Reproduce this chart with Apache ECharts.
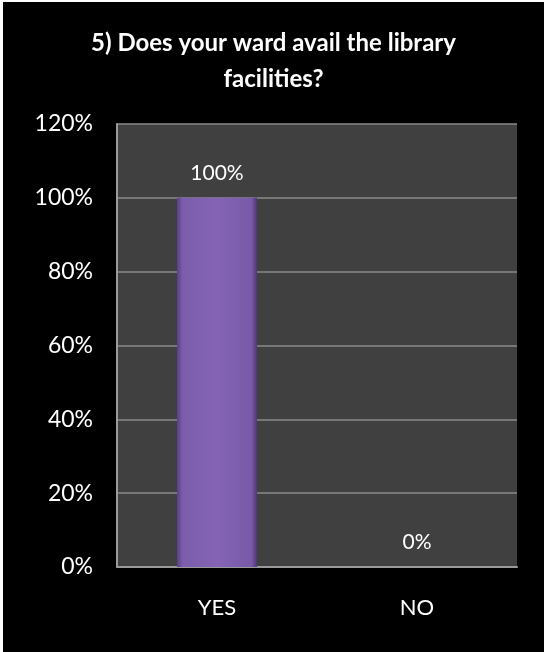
<!DOCTYPE html>
<html>
<head>
<meta charset="utf-8">
<script src="https://cdn.jsdelivr.net/npm/echarts@6/dist/echarts.min.js"></script>
<style>
html,body{margin:0;padding:0;background:#fff;}
#wrap{position:absolute;left:0;top:0;width:544px;height:652px;background:#fff;}
#chart{position:absolute;left:3px;top:2px;width:541px;height:650px;background:#000;}
</style>
</head>
<body>
<div id="wrap"><div id="chart"></div></div>
<script>
const titleText = '5) Does your ward avail the library\nfacilities?';
const categories = ['YES', 'NO'];
const values = [100, 0];
const yMin = 0, yMax = 120, yStep = 20;

const chart = echarts.init(document.getElementById('chart'));
const font = 'Lato, "Open Sans", sans-serif';
chart.setOption({
  backgroundColor: '#000',
  animation: false,
  title: {
    text: titleText,
    left: 'center',
    top: 18,
    textStyle: {color: '#fff', fontSize: 24, fontWeight: 'bold', fontFamily: font, lineHeight: 36}
  },
  grid: {left: 114, top: 122, right: 27, bottom: 85, show: true, backgroundColor: '#404040', borderWidth: 0},
  xAxis: {
    type: 'category',
    data: categories,
    axisLine: {show: true, lineStyle: {color: '#9a9a9a', width: 2}},
    axisTick: {show: false},
    axisLabel: {color: '#fff', fontSize: 22, fontFamily: font, margin: 30}
  },
  yAxis: {
    type: 'value',
    min: yMin, max: yMax, interval: yStep,
    axisLine: {show: true, lineStyle: {color: '#9a9a9a', width: 2}},
    axisTick: {show: false},
    splitLine: {lineStyle: {color: '#8a8a8a', width: 1.5}},
    axisLabel: {color: '#fff', fontSize: 23, fontFamily: font, margin: 24, formatter: v => v + '%'}
  },
  series: [{
    type: 'bar',
    data: values,
    barWidth: 80,
    itemStyle: {
      color: new echarts.graphic.LinearGradient(0, 0, 1, 0, [
        {offset: 0, color: '#5a4082'},
        {offset: 0.07, color: '#7b5dab'},
        {offset: 0.5, color: '#8563b5'},
        {offset: 0.93, color: '#785aa8'},
        {offset: 1, color: '#4e3676'}
      ]),
      borderWidth: 0
    },
    label: {show: true, position: 'top', distance: 14, color: '#fff', fontSize: 21, fontFamily: font, formatter: p => p.value + '%'}
  }]
});
</script>
</body>
</html>
